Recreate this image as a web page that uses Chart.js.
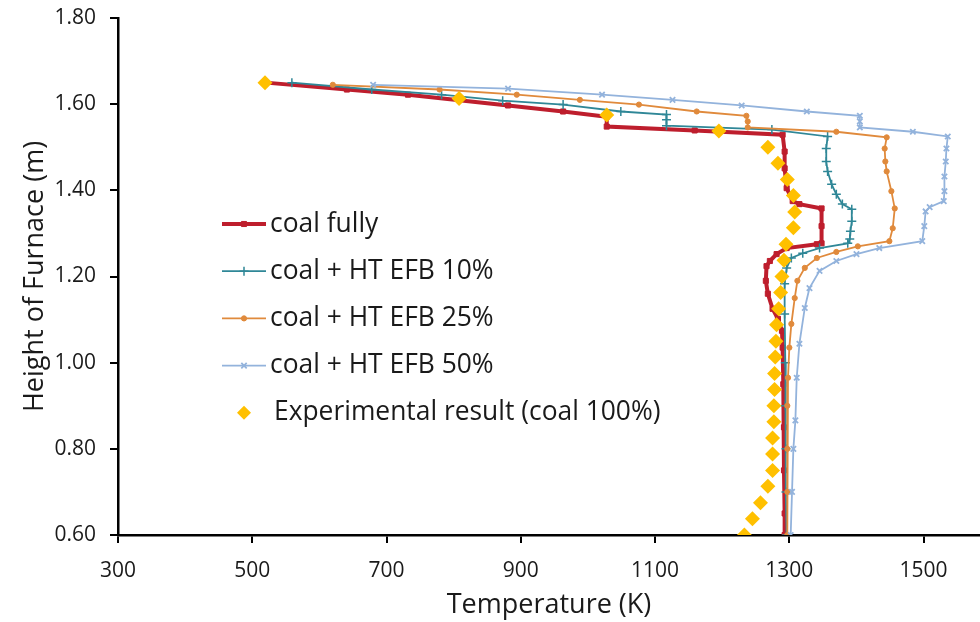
<!DOCTYPE html>
<html>
<head>
<meta charset="utf-8">
<script src="https://cdn.jsdelivr.net/npm/chart.js@4/dist/chart.umd.min.js"></script>
<style>
  html, body { margin: 0; padding: 0; background: #fff; }
  #wrap { width: 980px; height: 622px; position: relative; }
</style>
</head>
<body>
<div id="wrap"><canvas id="c" width="980" height="622"></canvas></div>
<script>
// ---- data (Temperature K, Height m) ----
const xTicks = [300, 500, 700, 900, 1100, 1300, 1500];
const yTicks = [0.6, 0.8, 1.0, 1.2, 1.4, 1.6, 1.8];

const seriesLabels = [
  'coal fully',
  'coal + HT EFB 10%',
  'coal + HT EFB 25%',
  'coal + HT EFB 50%',
  'Experimental result (coal 100%)'
];

const coalFullyT = [520, 641, 732, 881, 963, 1028, 1028, 1159, 1290, 1293, 1293, 1296, 1305, 1315, 1348, 1348, 1348, 1341, 1296, 1281, 1271, 1266, 1265, 1268, 1275, 1283, 1289, 1290, 1291, 1292, 1292, 1293, 1293];
const coalFullyH = [1.65, 1.634, 1.622, 1.597, 1.583, 1.571, 1.548, 1.539, 1.529, 1.49, 1.451, 1.405, 1.375, 1.368, 1.358, 1.317, 1.277, 1.275, 1.266, 1.252, 1.236, 1.224, 1.19, 1.16, 1.125, 1.102, 1.074, 1.035, 0.95, 0.85, 0.75, 0.65, 0.60];

const efb10T = [559, 678, 782, 873, 963, 1049, 1117, 1117, 1117, 1274, 1357, 1355, 1355, 1357, 1363, 1370, 1379, 1393, 1393, 1391, 1390, 1387, 1345, 1320, 1303, 1296, 1293, 1293, 1294, 1294, 1295, 1295, 1296];
const efb10H = [1.65, 1.634, 1.622, 1.608, 1.599, 1.583, 1.576, 1.564, 1.55, 1.541, 1.525, 1.497, 1.467, 1.444, 1.414, 1.391, 1.368, 1.356, 1.328, 1.305, 1.287, 1.277, 1.266, 1.254, 1.243, 1.22, 1.183, 1.113, 1.0, 0.9, 0.8, 0.7, 0.60];

const efb25T = [620, 779, 894, 988, 1076, 1162, 1236, 1238, 1238, 1370, 1445, 1442, 1443, 1445, 1452, 1457, 1454, 1449, 1402, 1370, 1341, 1323, 1312, 1308, 1303, 1300, 1298, 1297, 1297, 1297, 1297];
const efb25H = [1.645, 1.634, 1.622, 1.61, 1.599, 1.583, 1.573, 1.56, 1.546, 1.536, 1.523, 1.497, 1.467, 1.444, 1.398, 1.358, 1.312, 1.282, 1.27, 1.257, 1.243, 1.22, 1.19, 1.15, 1.09, 1.035, 0.965, 0.9, 0.8, 0.7, 0.60];

const efb50T = [680, 881, 1021, 1126, 1229, 1326, 1405, 1405, 1405, 1484, 1536, 1534, 1533, 1531, 1531, 1530, 1509, 1503, 1501, 1498, 1434, 1400, 1370, 1345, 1330, 1323, 1315, 1311, 1309, 1306, 1304, 1302];
const efb50H = [1.645, 1.636, 1.622, 1.61, 1.597, 1.583, 1.573, 1.56, 1.546, 1.536, 1.525, 1.497, 1.467, 1.432, 1.398, 1.375, 1.361, 1.351, 1.317, 1.282, 1.266, 1.252, 1.236, 1.213, 1.173, 1.127, 1.044, 0.965, 0.866, 0.8, 0.7, 0.60];

const expT = [1233, 1245, 1257, 1268, 1275, 1275, 1275, 1277, 1277, 1278, 1278, 1279, 1280, 1281, 1284, 1287, 1289, 1292, 1295, 1306, 1308, 1306, 1297, 1283, 1268, 1195, 1028, 808, 519];
const expH = [0.6, 0.638, 0.675, 0.713, 0.75, 0.788, 0.825, 0.863, 0.9, 0.938, 0.975, 1.013, 1.05, 1.088, 1.125, 1.163, 1.2, 1.238, 1.275, 1.313, 1.35, 1.388, 1.425, 1.463, 1.5, 1.538, 1.575, 1.613, 1.65];

// ---- build chart ----
const pts = (xs, ys) => xs.map((x, i) => ({ x: x, y: ys[i] }));
const FONT = "'Open Sans', 'DejaVu Sans', sans-serif";

const datasets = [
  { label: seriesLabels[0], data: pts(coalFullyT, coalFullyH), showLine: true,
    borderColor: '#BE1E2D', backgroundColor: '#BE1E2D', borderWidth: 4,
    pointStyle: 'rect', pointRadius: 3.6, pointBorderWidth: 1, order: 4 },
  { label: seriesLabels[1], data: pts(efb10T, efb10H), showLine: true,
    borderColor: '#2F8797', backgroundColor: '#2F8797', borderWidth: 1.8,
    pointStyle: 'cross', pointRadius: 4.5, pointBorderWidth: 1.5, order: 3 },
  { label: seriesLabels[2], data: pts(efb25T, efb25H), showLine: true,
    borderColor: '#E08A3C', backgroundColor: '#E08A3C', borderWidth: 1.8,
    pointStyle: 'circle', pointRadius: 2.6, pointBorderWidth: 1, order: 2 },
  { label: seriesLabels[3], data: pts(efb50T, efb50H), showLine: true,
    borderColor: '#93B3DC', backgroundColor: '#93B3DC', borderWidth: 1.8,
    pointStyle: 'crossRot', pointRadius: 3.8, pointBorderWidth: 1.8, order: 1 },
  { label: seriesLabels[4], data: pts(expT, expH), showLine: false,
    borderColor: '#FFC000', backgroundColor: '#FFC000', borderWidth: 0,
    pointStyle: 'rectRot', pointRadius: 7.5, pointBorderWidth: 0, order: 0 }
];

function marker(ctx, style, r, x, y) {
  ctx.beginPath();
  if (style === 'rect') {
    const s = r * Math.SQRT1_2;
    ctx.rect(x - s, y - s, 2 * s, 2 * s); ctx.fill(); ctx.stroke();
  } else if (style === 'circle') {
    ctx.arc(x, y, r, 0, Math.PI * 2); ctx.fill(); ctx.stroke();
  } else if (style === 'cross') {
    ctx.moveTo(x - r, y); ctx.lineTo(x + r, y);
    ctx.moveTo(x, y - r); ctx.lineTo(x, y + r); ctx.stroke();
  } else if (style === 'crossRot') {
    const s = r * Math.SQRT1_2;
    ctx.moveTo(x - s, y - s); ctx.lineTo(x + s, y + s);
    ctx.moveTo(x - s, y + s); ctx.lineTo(x + s, y - s); ctx.stroke();
  } else if (style === 'rectRot') {
    ctx.moveTo(x - r, y); ctx.lineTo(x, y - r); ctx.lineTo(x + r, y); ctx.lineTo(x, y + r);
    ctx.closePath(); ctx.fill();
  }
}

const legendPlugin = {
  id: 'innerLegend',
  afterDraw(chart) {
    const ctx = chart.ctx;
    const x0 = 222, x1 = 266, tx = 270, y0 = 224, dy = 47.2;
    ctx.save();
    chart.data.datasets.forEach((ds, i) => {
      const y = y0 + i * dy;
      const cx = (x0 + x1) / 2;
      ctx.strokeStyle = ds.borderColor;
      ctx.fillStyle = ds.backgroundColor;
      if (ds.showLine) {
        ctx.lineWidth = ds.borderWidth;
        ctx.beginPath(); ctx.moveTo(x0, y); ctx.lineTo(x1, y); ctx.stroke();
      }
      ctx.lineWidth = ds.pointBorderWidth || 1;
      marker(ctx, ds.pointStyle, ds.pointStyle === 'rectRot' ? 7 : ds.pointRadius, cx, y);
      ctx.fillStyle = '#1a1a1a';
      ctx.font = '26.4px ' + FONT;
      ctx.textBaseline = 'middle';
      ctx.textAlign = 'left';
      ctx.fillText(ds.label, ds.showLine ? tx : tx + 4, y);
    });
    ctx.restore();
  }
};

new Chart(document.getElementById('c'), {
  type: 'scatter',
  data: { datasets: datasets },
  plugins: [legendPlugin],
  options: {
    responsive: false,
    animation: false,
    layout: { autoPadding: false, padding: { top: 18, right: 0, left: 0, bottom: 0 } },
    plugins: { legend: { display: false }, tooltip: { enabled: false } },
    elements: { line: { tension: 0 } },
    scales: {
      x: {
        type: 'linear', min: 300, max: 1584,
        afterBuildTicks: axis => { axis.ticks = xTicks.map(v => ({ value: v })); },
        afterFit: s => { s.height = 87; s.paddingRight = 0; s.paddingLeft = 0; },
        grid: { display: true, drawOnChartArea: false, drawTicks: true, tickLength: 8, color: '#000', lineWidth: 2 },
        border: { display: true, color: '#000', width: 2.5 },
        ticks: { color: '#1a1a1a', font: { family: FONT, size: 21 }, padding: 15, maxRotation: 0,
                 callback: v => String(v) },
        title: { display: true, text: 'Temperature (K)', color: '#1a1a1a',
                 font: { family: FONT, size: 27 }, padding: { top: 4, bottom: 0 } }
      },
      y: {
        type: 'linear', min: 0.6, max: 1.8,
        afterBuildTicks: axis => { axis.ticks = yTicks.map(v => ({ value: v })); },
        afterFit: s => { s.width = 118; s.paddingTop = 0; s.paddingBottom = 0; },
        grid: { display: true, drawOnChartArea: false, drawTicks: true, tickLength: 8, color: '#000', lineWidth: 2 },
        border: { display: true, color: '#000', width: 2.5 },
        ticks: { color: '#1a1a1a', font: { family: FONT, size: 21 }, padding: 14,
                 callback: v => Number(v).toFixed(2) },
        title: { display: true, text: 'Height of Furnace (m)', color: '#1a1a1a',
                 font: { family: FONT, size: 27 }, padding: { top: 19, bottom: 4 } }
      }
    }
  }
});
</script>
</body>
</html>
